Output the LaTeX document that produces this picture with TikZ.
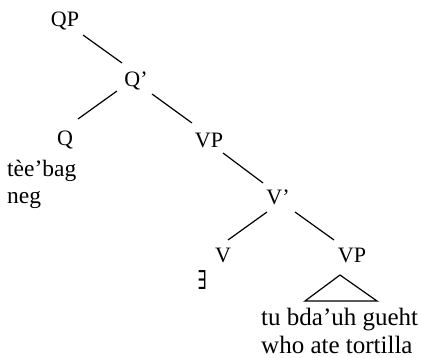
\documentclass[tikz,border=0pt]{standalone}
\usepackage{fontspec}
\usepackage{graphicx}
\setmainfont{Liberation Serif}
\newfontfamily\symfont{DejaVu Sans}
\usetikzlibrary{calc}
\begin{document}
\begin{tikzpicture}[x=1pt,y=1pt,
  lab/.style={anchor=base,inner sep=0pt,font=\fontsize{22}{26}\selectfont},
  leaf/.style={anchor=base west,inner sep=0pt,font=\fontsize{23.5}{28}\selectfont},
  bigleaf/.style={anchor=base west,inner sep=0pt,font=\fontsize{25}{30}\selectfont},
  edge/.style={line width=1.2pt}]
\useasboundingbox (0,0) rectangle (421,-358);
\node[lab] (QP) at (65,-27) {QP};
\node[lab] (Qbar) at (136,-87) {Q’};
\node[lab] (Q) at (65,-146) {Q};
\node[lab] (VP) at (209,-148) {VP};
\node[lab] (Vbar) at (278,-205) {V’};
\node[lab] (V) at (223,-263) {V};
\node[lab] (VP2) at (352,-263) {VP};
\node[leaf] (teebag) at (7,-177) {tèe’bag};
\node[leaf] (neg) at (7,-204) {neg};
\node[anchor=center,inner sep=0pt,font=\symfont\fontsize{26}{28}\selectfont] (E) at (202,-280.5) {\scalebox{0.55}[1]{∃}};
\node[bigleaf] (tu) at (261,-326) {tu bda’uh gueht};
\node[bigleaf] (who) at (261,-354) {who ate tortilla};
\draw[edge] ($(QP.base)+(18,-8)$) -- ($(Qbar.base)+(-14,24)$);
\draw[edge] ($(Qbar.base)+(-19,-4)$) -- ($(Q.base)+(13,27)$);
\draw[edge] ($(Qbar.base)+(16,-7)$) -- ($(VP.base)+(-17,25)$);
\draw[edge] ($(VP.base)+(14,-5)$) -- ($(Vbar.base)+(-15,22)$);
\draw[edge] ($(Vbar.base)+(-11,-7)$) -- ($(V.base)+(5,23)$);
\draw[edge] ($(Vbar.base)+(17,-7)$) -- ($(VP2.base)+(-18,23)$);
\draw[edge,line join=miter] ($(VP2.base)+(-12,-12)$) -- ($(VP2.base)+(-47,-38)$) -- ($(VP2.base)+(25,-38)$) -- cycle;
\end{tikzpicture}
\end{document}
